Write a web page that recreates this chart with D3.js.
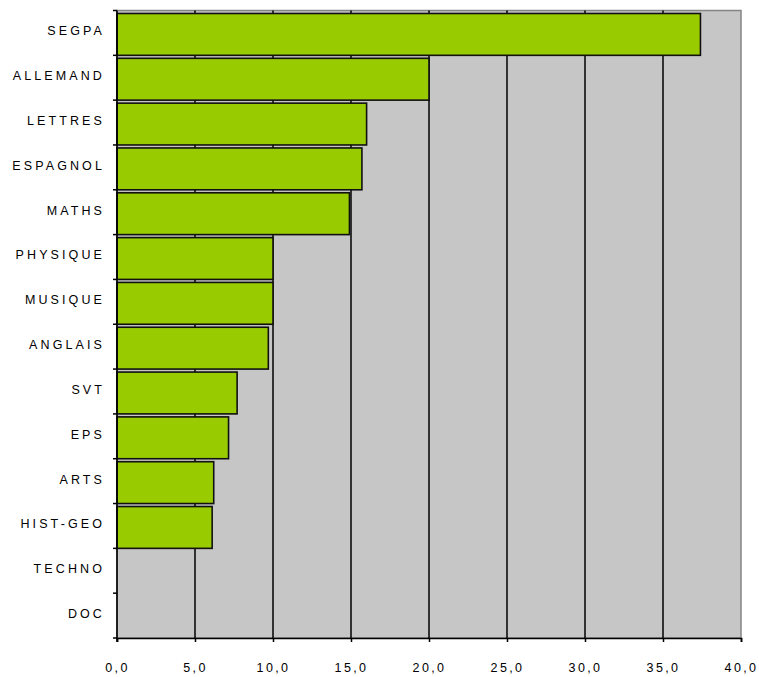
<!DOCTYPE html>
<html>
<head>
<meta charset="utf-8">
<script src="https://cdn.jsdelivr.net/npm/d3@7"></script>
<style>
  html, body { margin: 0; padding: 0; background: #ffffff; }
  svg { display: block; }
  text { font-family: Arial, "Liberation Sans", sans-serif; font-size: 12.5px; fill: #000; letter-spacing: 3.1px; }
  .xt text { letter-spacing: 2.4px; }
</style>
</head>
<body>
<svg id="chart" width="759" height="677"></svg>
<script>
const categories = ["SEGPA", "ALLEMAND", "LETTRES", "ESPAGNOL", "MATHS", "PHYSIQUE", "MUSIQUE", "ANGLAIS", "SVT", "EPS", "ARTS", "HIST-GEO", "TECHNO", "DOC"];
const values = [37.4, 20.0, 16.0, 15.7, 14.9, 10.0, 10.0, 9.7, 7.7, 7.15, 6.2, 6.1, 0, 0];
const xTicks = [0, 5, 10, 15, 20, 25, 30, 35, 40];

(function () {
const svg = d3.select("#chart");
const pLeft = 117, pRight = 741, pTop = 10.5, pBottom = 638;

const x = d3.scaleLinear().domain([0, 40]).range([pLeft, pRight]);
const y = d3.scaleBand().domain(categories).range([pTop, pBottom]).paddingInner(0).paddingOuter(0);

// plot background
svg.append("rect")
  .attr("x", pLeft).attr("y", pTop)
  .attr("width", pRight - pLeft).attr("height", pBottom - pTop)
  .attr("fill", "#c6c6c6")
  .attr("stroke", "#858585").attr("stroke-width", 1.5);

// vertical gridlines
svg.append("g").selectAll("line")
  .data(xTicks.filter(d => d > 0 && d < 40))
  .join("line")
  .attr("x1", d => x(d)).attr("x2", d => x(d))
  .attr("y1", pTop).attr("y2", pBottom)
  .attr("stroke", "#000").attr("stroke-width", 1.5);

// bars
const gap = 3;
svg.append("g").selectAll("rect")
  .data(categories.map((c, i) => ({ c, v: values[i] })).filter(d => d.v > 0))
  .join("rect")
  .attr("x", x(0))
  .attr("y", d => y(d.c) + gap)
  .attr("width", d => x(d.v) - x(0))
  .attr("height", y.bandwidth() - gap)
  .attr("fill", "#99cc00")
  .attr("stroke", "#111").attr("stroke-width", 1.6);

// y axis
const yAxis = svg.append("g");
yAxis.append("line")
  .attr("x1", pLeft).attr("x2", pLeft).attr("y1", pTop).attr("y2", pBottom + 4)
  .attr("stroke", "#000").attr("stroke-width", 1.6);
yAxis.selectAll("line.tick")
  .data(d3.range(categories.length + 1))
  .join("line").attr("class", "tick")
  .attr("x1", pLeft - 4).attr("x2", pLeft)
  .attr("y1", i => pTop + i * y.step()).attr("y2", i => pTop + i * y.step())
  .attr("stroke", "#000").attr("stroke-width", 1.5);
yAxis.selectAll("text")
  .data(categories)
  .join("text")
  .attr("x", 105)
  .attr("y", d => y(d) + y.bandwidth() / 2 - 2)
  .attr("dy", "0.35em")
  .attr("text-anchor", "end")
  .text(d => d);

// x axis
const xAxis = d3.axisBottom(x)
  .tickValues(xTicks)
  .tickSize(4)
  .tickPadding(21)
  .tickFormat(d => d3.format(".1f")(d).replace(".", ","));
const gx = svg.append("g").attr("class", "xt").attr("transform", `translate(0,${pBottom})`).call(xAxis);
gx.select(".domain").attr("stroke", "#000").attr("stroke-width", 1.6);
gx.selectAll(".tick line").attr("stroke", "#000").attr("stroke-width", 1.5);
gx.selectAll(".tick text")
  .attr("font-family", "Arial, 'Liberation Sans', sans-serif")
  .attr("font-size", 12.5)
  .attr("dx", "0px")
  .style("fill", "#000");
})();
</script>
</body>
</html>
